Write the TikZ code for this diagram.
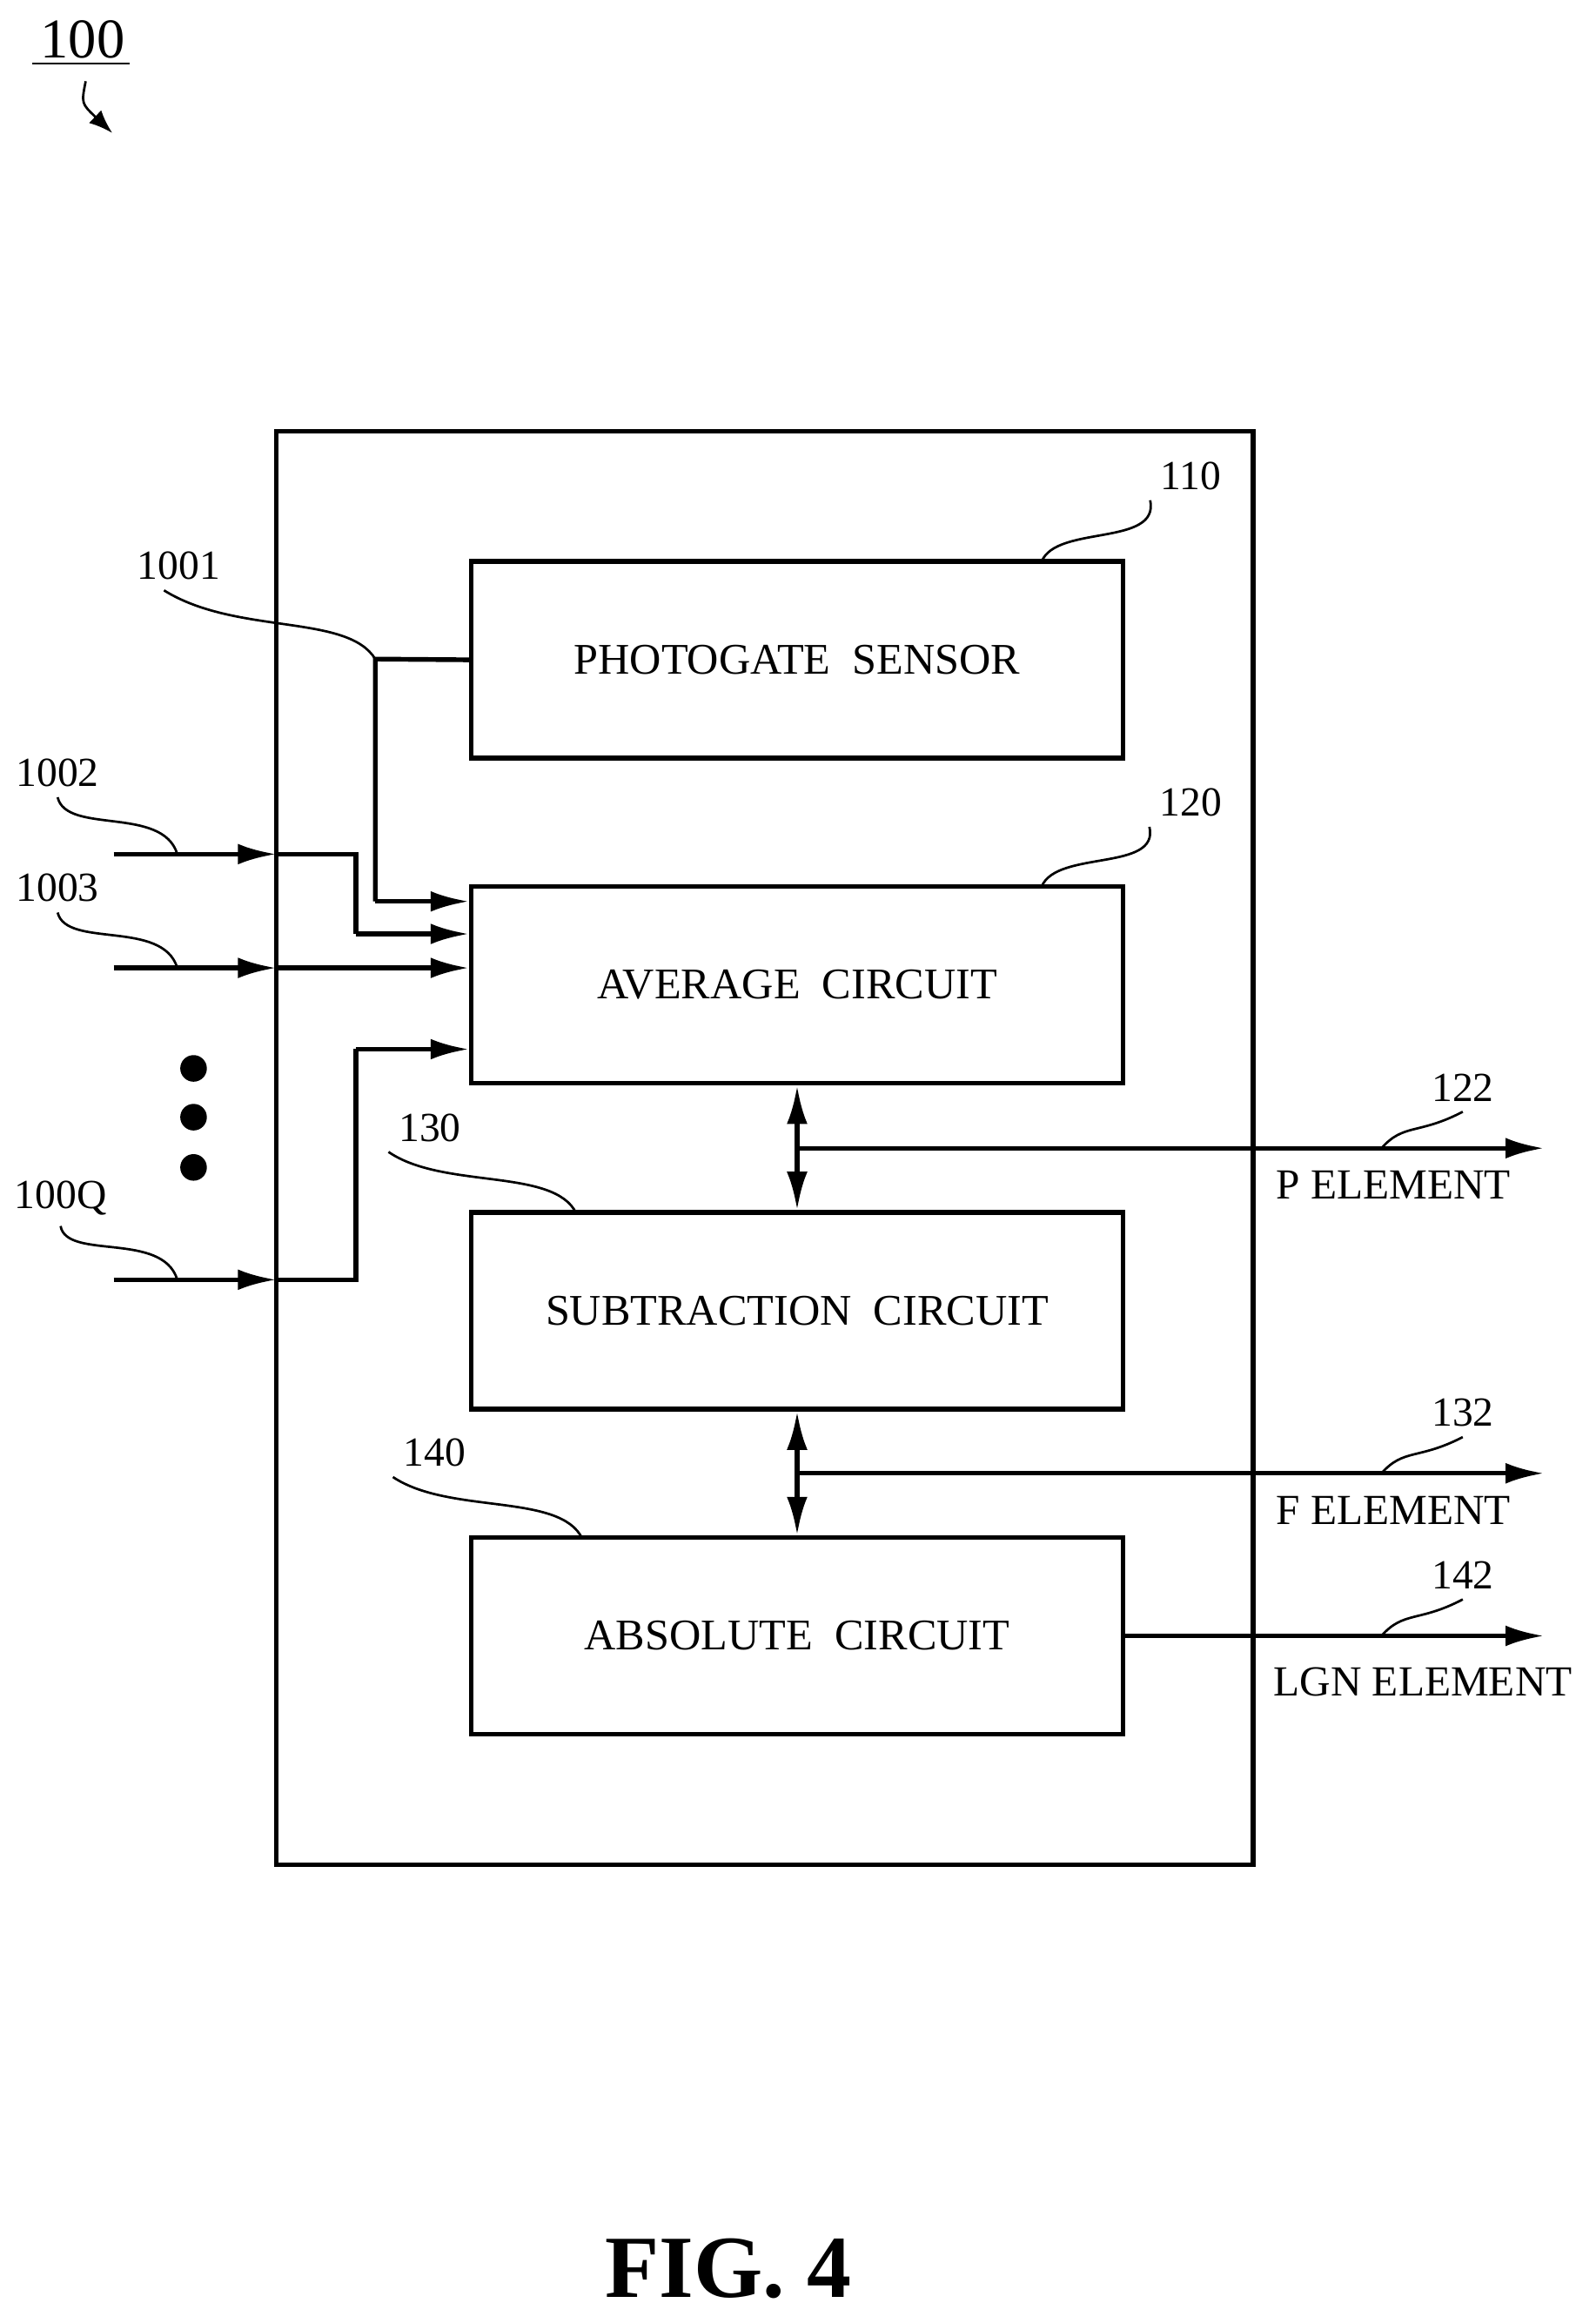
\documentclass[tikz,border=0pt]{standalone}
\usepackage{fontspec}
\setmainfont{Liberation Serif}
\usetikzlibrary{arrows.meta}
\begin{document}
\begin{tikzpicture}[x=0.5pt,y=-0.5pt,
  ln/.style={line width=1.6pt},
  arr/.style={ln,-{Latex[length=13pt,width=7pt]}},
  darr/.style={ln,{Latex[length=13pt,width=7pt]}-{Latex[length=13pt,width=7pt]}},
  blk/.style={draw,line width=1.6pt,minimum width=220.5pt,minimum height=66.5pt,font=\fontsize{14.8}{17}\selectfont},
  lbl/.style={font=\fontsize{14}{16}\selectfont},
  olbl/.style={font=\fontsize{14.5}{16}\selectfont},
  lead/.style={line width=0.8pt}]
\useasboundingbox (0,0) rectangle (1080,1572);
\node[draw,line width=1.6pt,minimum width=330.5pt,minimum height=485pt] (outer) at (517.5,777) {};
\node[blk] (ps) at (539.5,446.5) {PHOTOGATE\ \ SENSOR};
\node[blk] (avg) at (539.5,666.5) {AVERAGE\ \ CIRCUIT};
\node[blk] (sub) at (539.5,887) {SUBTRACTION\ \ CIRCUIT};
\node[blk] (abs) at (539.5,1107) {ABSOLUTE\ \ CIRCUIT};
% inputs
\coordinate (i2) at (77,578); \coordinate (i3) at (77,655); \coordinate (iq) at (77,866);
\coordinate (e2) at (187,578); \coordinate (e3) at (187,655); \coordinate (eq) at (187,866);
\draw[ln] (ps.west) -- (254,446) -- (254,610);
\draw[arr] (254,610) -- (avg.west |- 0,610);
\draw[arr] (i2) -- (e2);
\draw[ln] (e2) -- (241,578) -- (241,632);
\draw[arr] (241,632) -- (avg.west |- 0,632);
\draw[arr] (i3) -- (e3);
\draw[arr] (e3) -- (avg.west |- 0,655);
\draw[arr] (iq) -- (eq);
\draw[ln] (eq) -- (241,866) -- (241,710);
\draw[arr] (241,710) -- (avg.west |- 0,710);
\foreach \y/\n in {723/d1,756/d2,790/d3} \fill (131,\y) circle (4.5pt);
% vertical links
\draw[darr] (avg.south) -- (sub.north);
\draw[darr] (sub.south) -- (abs.north);
\coordinate (o1) at (1045,777); \coordinate (o2) at (1045,997); \coordinate (o3) at (1045,1107);
\draw[arr] (540,777) -- (o1);
\draw[arr] (540,997) -- (o2);
\draw[arr] (abs.east) -- (o3);
% output labels
\node[olbl] (pe) at (943,802) {P ELEMENT};
\node[olbl] (fe) at (943,1022) {F ELEMENT};
\node[olbl] (le) at (963,1138) {LGN ELEMENT};
\node[lbl] (l122) at (990,736) {122};
\node[lbl] (l132) at (990,956) {132};
\node[lbl] (l142) at (990,1066) {142};
\draw[lead] (935,777) .. controls (950,760) and (960,768) .. (l122.south);
\draw[lead] (935,997) .. controls (950,980) and (960,988) .. (l132.south);
\draw[lead] (935,1107) .. controls (950,1090) and (960,1098) .. (l142.south);
% block labels
\node[lbl] (l110) at (806,322) {110};
\node[lbl] (l120) at (806,543) {120};
\node[lbl] (l130) at (291,763) {130};
\node[lbl] (l140) at (294,983) {140};
\draw[lead] (705,380) .. controls (715,355) and (785,370) .. (l110.south west);
\draw[lead] (705,600) .. controls (715,575) and (785,590) .. (l120.south west);
\draw[lead] (390,821) .. controls (375,790) and (300,805) .. (l130.south west);
\draw[lead] (394,1041) .. controls (379,1010) and (304,1025) .. (l140.south west);
\node[lbl] (l1001) at (121,383) {1001};
\node[lbl] (l1002) at (39,523) {1002};
\node[lbl] (l1003) at (39,601) {1003};
\node[lbl] (l100Q) at (41,811) {100Q};
\draw[lead] (254,446) .. controls (235,415) and (160,430) .. ([xshift=-5pt]l1001.south);
\draw[lead] (120,578) .. controls (110,545) and (45,565) .. (l1002.south);
\draw[lead] (120,655) .. controls (110,622) and (45,642) .. (l1003.south);
\draw[lead] (120,866) .. controls (110,833) and (45,853) .. (l100Q.south);
% title
\node[font=\fontsize{19}{21}\selectfont] (t100) at (56,27) {100};
\draw[line width=0.8pt] (22,43) -- (88,43);
\draw[line width=0.8pt,-{Latex[length=8pt,width=6pt]}] (58,55) .. controls (55,70) .. (76,90);
\node[font=\bfseries\fontsize{30}{34}\selectfont] (fig) at (493,1535) {FIG. 4};
\end{tikzpicture}
\end{document}
